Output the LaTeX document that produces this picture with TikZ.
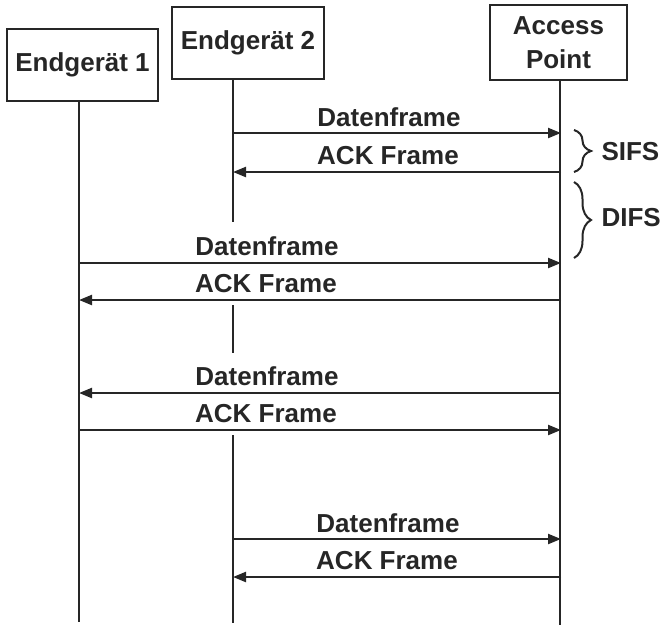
\documentclass[tikz,border=0pt]{standalone}
\usepackage{fontspec}
\setmainfont{Liberation Sans}
\usetikzlibrary{arrows.meta,decorations.pathreplacing}
\begin{document}
\begin{tikzpicture}[x=1pt,y=-1pt,
  every node/.style={font=\fontsize{26}{34}\selectfont\bfseries, text=black!85},
  box/.style={draw=black!85, line width=2.5pt, inner sep=0pt, align=center},
  life/.style={draw=black!85, line width=2.2pt},
  msg/.style={draw=black!85, line width=2.2pt, -{Triangle[length=13pt,width=10pt]}},
  lbl/.style={anchor=base},
  brc/.style={draw=black!85, line width=2pt, decorate, decoration={brace, amplitude=17pt}}]
\useasboundingbox (0,0) rectangle (665,630);
% boxes
\node[box, minimum width=151pt, minimum height=72pt] (e1) at (82.5,65) {Endgerät 1};
\node[box, minimum width=152pt, minimum height=72pt] (e2) at (248,43) {Endgerät 2};
\node[box, minimum width=137pt, minimum height=75pt] (ap) at (558.5,42.5) {Access\\Point};
% lifelines
\coordinate (e1t) at (79,101);  \coordinate (e1b) at (79,622);
\coordinate (e2t) at (233,79);  \coordinate (e2m1) at (233,222);
\coordinate (e2m2) at (233,305); \coordinate (e2m3) at (233,353);
\coordinate (e2m4) at (233,435); \coordinate (e2b) at (233,623);
\coordinate (apt) at (560,80);  \coordinate (apb) at (560,625);
\draw[life] (e1t) -- (e1b);
\draw[life] (e2t) -- (e2m1);
\draw[life] (e2m2) -- (e2m3);
\draw[life] (e2m4) -- (e2b);
\draw[life] (apt) -- (apb);
% message anchors
\coordinate (a1) at (233,133); \coordinate (b1) at (561,133);
\coordinate (a2) at (233,172); \coordinate (b2) at (561,172);
\coordinate (a3) at (79,263);  \coordinate (b3) at (561,263);
\coordinate (a4) at (79,300);  \coordinate (b4) at (561,300);
\coordinate (a5) at (79,393);  \coordinate (b5) at (561,393);
\coordinate (a6) at (79,430);  \coordinate (b6) at (561,430);
\coordinate (a7) at (233,539); \coordinate (b7) at (561,539);
\coordinate (a8) at (233,577); \coordinate (b8) at (561,577);
% messages
\draw[msg] (a1) -- (b1);
\node[lbl] (t1) at (389,126) {Datenframe};
\draw[msg] (b2) -- (a2);
\node[lbl] (t2) at (388,164) {ACK Frame};
\draw[msg] (a3) -- (b3);
\node[lbl] (t3) at (267,255) {Datenframe};
\draw[msg] (b4) -- (a4);
\node[lbl] (t4) at (266,292) {ACK Frame};
\draw[msg] (b5) -- (a5);
\node[lbl] (t5) at (267,385) {Datenframe};
\draw[msg] (a6) -- (b6);
\node[lbl] (t6) at (266,422) {ACK Frame};
\draw[msg] (a7) -- (b7);
\node[lbl] (t7) at (388,532) {Datenframe};
\draw[msg] (b8) -- (a8);
\node[lbl] (t8) at (387,569) {ACK Frame};
% braces
\coordinate (s1) at (574,130); \coordinate (s2) at (574,172);
\coordinate (d1) at (574,182); \coordinate (d2) at (574,258);
\draw[brc] (s1) -- (s2);
\draw[brc] (d1) -- (d2);
\node[anchor=west] (sifs) at (598,152) {SIFS};
\node[anchor=west] (difs) at (598,218) {DIFS};
\end{tikzpicture}
\end{document}
